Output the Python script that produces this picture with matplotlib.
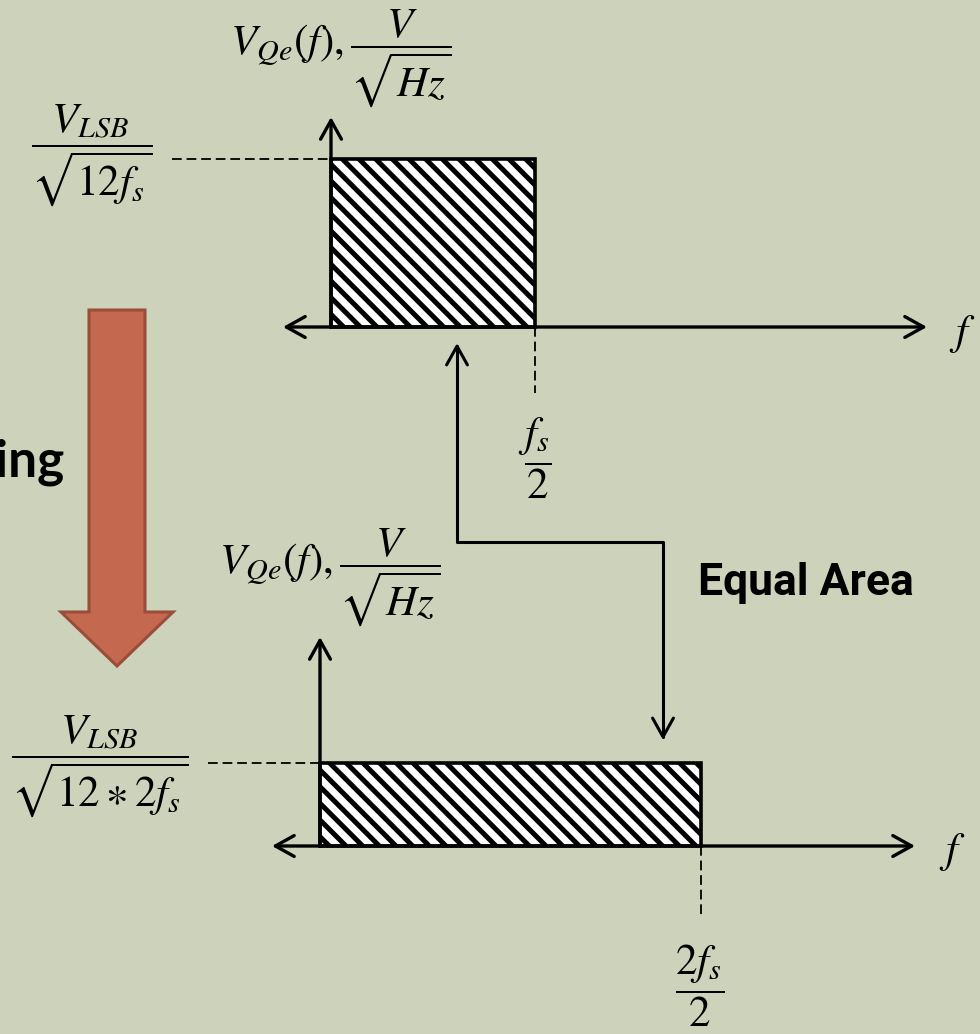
import matplotlib
matplotlib.use("Agg")
import matplotlib.pyplot as plt
from matplotlib.patches import FancyArrowPatch, FancyArrow
from matplotlib.path import Path

# ---- data -------------------------------------------------------------
# quantisation-noise spectrum before / after oversampling (f in units of fs)
band_edge = [0.5, 1.0]          # fs/2 and 2fs/2
noise_level = [1.0, 0.5]        # density, relative to V_LSB/sqrt(12 fs)
level_labels = [r"$\dfrac{V_{LSB}}{\sqrt{12f_s}}$",
                r"$\dfrac{V_{LSB}}{\sqrt{12\ast 2f_s}}$"]
edge_labels = [r"$\dfrac{f_s}{2}$", r"$\dfrac{2f_s}{2}$"]
ylabel_text = r"$V_{Qe}(f),\dfrac{V}{\sqrt{Hz}}$"

# ---- style ------------------------------------------------------------
BG = "#CDD2BA"
ARROW_FACE = "#C4694F"
ARROW_EDGE = "#9A4D3A"
plt.rcParams["mathtext.fontset"] = "stix"
plt.rcParams["hatch.linewidth"] = 3.6
plt.rcParams["lines.scale_dashes"] = False

W, H = 980, 1034
fig = plt.figure(figsize=(W / 100, H / 100), dpi=100, facecolor=BG)

# pixel canvas for free-standing annotations
canvas = fig.add_axes([0, 0, 1, 1], facecolor=BG)
canvas.set_xlim(0, W)
canvas.set_ylim(H, 0)
canvas.axis("off")

# placement of each spectrum plot: origin (px), scale (px per unit), axis tips
panels = [
    dict(ox=331, oy=327, sx=408, sy=168, left=283, right=927, top=117,
         dash_l=172, dash_v=393, ylab=(341, 58), lvl=(92, 156),
         edge=(535, 458), flab=(962, 334)),
    dict(ox=320, oy=846, sx=381, sy=166, left=272, right=915, top=637,
         dash_l=208, dash_v=916, ylab=(330, 577), lvl=(100, 767),
         edge=(700, 986), flab=(952, 852)),
]

math_kw = dict(fontsize=31, color="black", ha="center", va="center")

for i, p in enumerate(panels):
    ax = fig.add_axes([0, 0, 1, 1])
    ax.patch.set_alpha(0)
    ax.set_xlim((0 - p["ox"]) / p["sx"], (W - p["ox"]) / p["sx"])
    ax.set_ylim((p["oy"] - H) / p["sy"], p["oy"] / p["sy"])
    ax.axis("off")

    def px(x, y, p=p):
        return (x - p["ox"]) / p["sx"], (p["oy"] - y) / p["sy"]

    # hatched noise band
    ax.bar(0, noise_level[i], width=band_edge[i], align="edge",
           facecolor="white", edgecolor="black", hatch="\\\\",
           linewidth=2.6, zorder=3)

    # frequency axis (double headed) and density axis
    arrow_style = "<->,head_length=0.9,head_width=0.5"
    ax.add_patch(FancyArrowPatch(px(p["left"], p["oy"]), px(p["right"], p["oy"]),
                                 arrowstyle=arrow_style, mutation_scale=15,
                                 color="black", lw=2.4, shrinkA=0, shrinkB=0,
                                 zorder=4))
    ax.add_patch(FancyArrowPatch((0, 0), px(p["ox"], p["top"]),
                                 arrowstyle="->,head_length=0.9,head_width=0.5",
                                 mutation_scale=15, color="black", lw=2.4,
                                 shrinkA=0, shrinkB=0, zorder=4))

    # dashed guides to level and band edge
    xl, _ = px(p["dash_l"], 0)
    ax.plot([xl, 0], [noise_level[i], noise_level[i]], color="black",
            lw=1.3, dashes=(7, 3.5), zorder=2)
    _, yv = px(0, p["dash_v"])
    ax.plot([band_edge[i], band_edge[i]], [0, yv], color="black",
            lw=1.3, dashes=(7, 3.5), zorder=2)

    # labels
    ax.text(*px(*p["ylab"]), ylabel_text, **math_kw)
    ax.text(*px(*p["lvl"]), level_labels[i], **math_kw)
    ax.text(*px(*p["edge"]), edge_labels[i], **math_kw)
    ax.text(*px(*p["flab"]), r"$f$", **math_kw)

# "Equal Area" connector between the two band edges
link = Path([(457, 343), (457, 542), (663, 542), (663, 740)],
            [Path.MOVETO, Path.LINETO, Path.LINETO, Path.LINETO])
canvas.add_patch(FancyArrowPatch(path=link,
                                 arrowstyle="<->,head_length=0.9,head_width=0.5",
                                 mutation_scale=15, color="black", lw=2.2,
                                 transform=canvas.transData))
canvas.text(806, 583, "Equal Area", fontsize=32, fontweight="bold",
            family="Roboto", ha="center", va="center", color="black")

# oversampling block arrow
canvas.add_patch(FancyArrow(117, 310, 0, 356, width=56, head_width=112,
                            head_length=54, length_includes_head=True,
                            facecolor=ARROW_FACE, edgecolor=ARROW_EDGE,
                            linewidth=2.2))
canvas.text(64, 477, "Oversampling", fontsize=37, fontweight="bold",
            family="Lato", ha="right", va="baseline", color="black")

fig.savefig("out.png", dpi=100, facecolor=BG)
